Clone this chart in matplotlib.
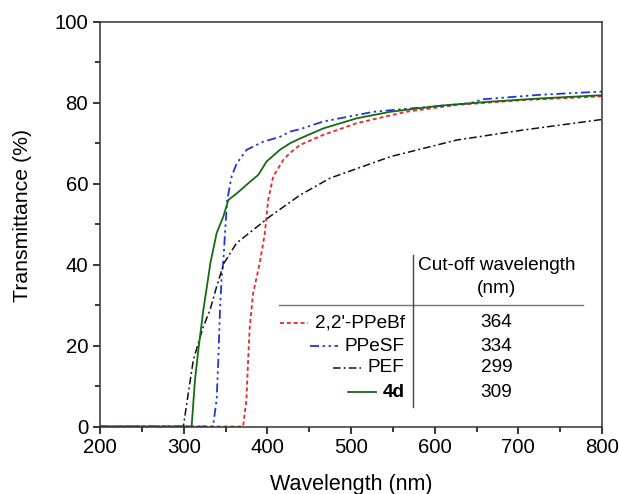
import matplotlib.pyplot as plt
from matplotlib.lines import Line2D
from matplotlib.ticker import MultipleLocator

plt.rcParams['font.family'] = ['Liberation Sans', 'DejaVu Sans']

# 2,2'-PPeBf (red, dotted)
wl_ppebf = [200, 371, 375, 377, 379, 383, 391, 397, 401, 407, 419, 427, 439, 467, 507,
            566, 626, 706, 800]
t_ppebf = [0, 0, 6.6, 16.4, 24.7, 32.9, 40.5, 47.8, 56, 61.8, 65.9, 67.6, 69.6, 72.1, 75,
           77.8, 79.5, 80.7, 81.6]

# PPeSF (blue, dash-dot-dot)
wl_ppesf = [200, 335, 339.4, 341.4, 343.4, 345.4, 347.4, 349.4, 352, 357.3, 363.3, 375.2,
            395, 415, 427, 439, 467, 527, 586, 642, 658, 726, 800]
t_ppesf = [0, 0, 6.6, 16.4, 28.8, 37, 40.8, 47.8, 56, 61.8, 65, 68.4,
           70.4, 71.6, 72.9, 73.5, 75.4, 77.8, 78.9, 79.9, 80.9, 82, 82.8]

# PEF (black, dash-dot)
wl_pef = [200, 299.6, 305.5, 311.5, 317.5, 323.5, 331.5, 339.4, 348, 363, 383, 403, 439,
          475, 547, 626, 706, 800]
t_pef = [0, 0, 8.2, 16.4, 20.6, 24.7, 28.8, 34.6, 40.3, 45.3, 48.6, 51.9, 57.2,
         61.4, 66.7, 70.8, 73.3, 75.9]

# 4d (green, solid)
wl_4d = [200, 309.5, 313.5, 317.5, 323.5, 329.5, 332, 339.4, 347.4, 353.4, 363.3, 379.3,
         389.2, 399, 415, 427, 439, 467, 507, 547, 606, 666, 726, 800]
t_4d = [0, 0, 11.5, 18.9, 28.8, 37, 40.5, 47.8, 51.9, 56, 57.6, 60.5,
        62.2, 65.5, 68.4, 70, 71.2, 73.7, 76.2, 77.8, 79.3, 80.3, 81.1, 81.9]

names = ["2,2'-PPeBf", 'PPeSF', 'PEF', '4d']
cutoffs = [364, 334, 299, 309]

red = '#e8262b'
blue = '#2234e0'
black = '#111111'
green = '#156b12'
styles = [
    dict(color=red, ls=(0, (2.2, 1.6)), lw=1.3),
    dict(color=blue, ls=(0, (5, 2, 1.3, 2, 1.3, 2)), lw=1.3),
    dict(color=black, ls=(0, (5, 2, 1.3, 2)), lw=1.1),
    dict(color=green, ls='-', lw=1.3),
]

fig = plt.figure(figsize=(6.2, 4.94), dpi=100)
ax = fig.add_axes([0.1613, 0.1366, 0.8097, 0.8189])

series = [(wl_ppebf, t_ppebf), (wl_ppesf, t_ppesf), (wl_pef, t_pef), (wl_4d, t_4d)]
for (x, y), st in zip(series, styles):
    ax.plot(x, y, **st)

ax.set_xlim(200, 800)
ax.set_ylim(0, 100)
ax.xaxis.set_major_locator(MultipleLocator(100))
ax.xaxis.set_minor_locator(MultipleLocator(50))
ax.yaxis.set_major_locator(MultipleLocator(20))
ax.yaxis.set_minor_locator(MultipleLocator(10))
ax.tick_params(which='both', direction='out', top=False, right=False,
               labelsize=14.7, width=1.1)
ax.tick_params(which='major', length=5)
ax.tick_params(which='minor', length=3.5)
for s in ax.spines.values():
    s.set_linewidth(1.1)
    s.set_color('#333333')

ax.set_xlabel('Wavelength (nm)', fontsize=15.5)
ax.set_ylabel('Transmittance (%)', fontsize=15.3)
ax.xaxis.set_label_coords(0.5, -0.117)
ax.yaxis.set_label_coords(-0.135, 0.523)

# table-style legend
tr = ax.transAxes
ax.add_line(Line2D([0.357, 0.962], [0.300, 0.300], transform=tr, color='#777777', lw=1))
ax.add_line(Line2D([0.623, 0.623], [0.048, 0.424], transform=tr, color='#444444', lw=1))
ax.text(0.79, 0.397, 'Cut-off wavelength', transform=tr, ha='center', va='center',
        fontsize=13.7)
ax.text(0.79, 0.340, '(nm)', transform=tr, ha='center', va='center', fontsize=13.7)

row_y = [0.256, 0.199, 0.145, 0.085]
for name, cut, st, yy in zip(names, cutoffs, styles, row_y):
    bold = name == '4d'
    t = ax.text(0.607, yy, name, transform=tr, ha='right', va='center', fontsize=13.7,
                fontweight='bold' if bold else 'normal')
    fig.canvas.draw()
    bb = t.get_window_extent().transformed(tr.inverted())
    x1 = bb.x0 - 0.014
    x0 = x1 - 0.055
    ax.add_line(Line2D([x0, x1], [yy, yy], transform=tr, **st))
    ax.text(0.79, yy, str(cut), transform=tr, ha='center', va='center', fontsize=13.7)

fig.savefig('out.png', dpi=100)
